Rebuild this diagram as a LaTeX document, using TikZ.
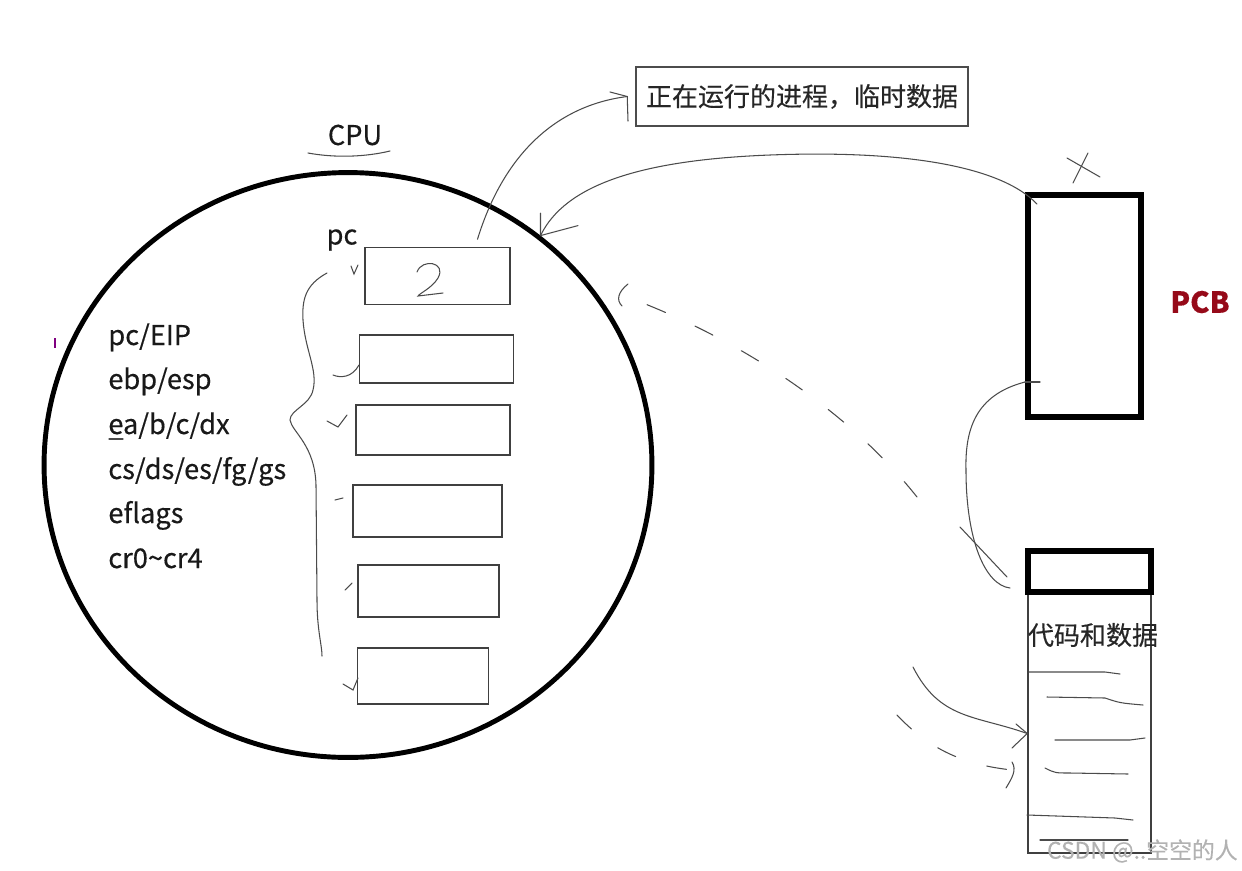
\documentclass[tikz,border=0pt]{standalone}
\usepackage{fontspec}
\setmainfont{Noto Sans CJK SC}[FakeBold=0.35]
\usetikzlibrary{shapes.geometric}

\definecolor{pcbred}{RGB}{150,10,25}
\definecolor{penc}{RGB}{75,75,75}

\tikzset{
  hand/.style={draw=penc, line width=0.6pt, line cap=round},
  dashhand/.style={hand, dash pattern=on 0.4cm off 0.65cm},
  regbox/.style={draw=black!75, line width=0.9pt, inner sep=0pt},
  thickbox/.style={draw=black, line width=3.4pt, inner sep=0pt},
  txt/.style={font=\fontsize{15.5}{18}\selectfont, text=black!90, inner sep=0pt},
  reglabel/.style={txt, anchor=base west},
}

\begin{document}
\begin{tikzpicture}[x=0.02cm, y=-0.02cm]
    \useasboundingbox (0,0) rectangle (1242,870);

    % CPU
    \node[ellipse, draw, line width=2.8pt, minimum width=12.16cm, minimum height=11.7cm] (cpu) at (348,465) {};
    \node[txt] (cpulabel) at (355,135) {CPU};
    \draw[hand] (308,153) .. controls (335,158) and (365,157) .. (390,151);
    \draw[violet, line width=0.6pt] (55,338) -- (55,348);

    % registers
    \node[reglabel] (r1) at (108,345) {pc/EIP};
    \node[reglabel] (r2) at (108,389) {ebp/esp};
    \node[reglabel] (r3) at (108,434) {ea/b/c/dx};
    \node[reglabel] (r4) at (108,479) {cs/ds/es/fg/gs};
    \node[reglabel] (r5) at (108,523) {eflags};
    \node[reglabel] (r6) at (108,568) {cr0\textasciitilde cr4};
    \draw[hand] (109,439) -- (123,439);

    % register boxes
    \node[txt] (pclabel) at (342,240) {pc};
    \node[regbox, minimum width=2.9cm, minimum height=1.14cm] (reg1) at (437.5,276) {};
    \node[regbox, minimum width=3.08cm, minimum height=0.96cm] (reg2) at (436.5,359) {};
    \node[regbox, minimum width=3.08cm, minimum height=1cm] (reg3) at (433,430) {};
    \node[regbox, minimum width=2.98cm, minimum height=1.04cm] (reg4) at (427.5,511) {};
    \node[regbox, minimum width=2.82cm, minimum height=1.04cm] (reg5) at (428.5,591) {};
    \node[regbox, minimum width=2.62cm, minimum height=1.12cm] (reg6) at (423,676) {};
    \draw[hand] (417,272) .. controls (422,258) and (447,262) .. (438,278)
        .. controls (432,288) and (420,293) .. (418,296) -- (443,293);

    % brace and ticks
    \draw[hand] (327,273) .. controls (305,285) and (302,300) .. (303,320)
        .. controls (305,350) and (318,370) .. (313,390)
        .. controls (310,405) and (290,410) .. (290,420)
        .. controls (292,432) and (315,445) .. (316,485) -- (317,600)
        .. controls (317,630) and (322,645) .. (322,656);
    \draw[hand] (351,266) -- (354,274) -- (358,265);
    \draw[hand] (333,375) .. controls (340,378) and (352,378) .. (359,365);
    \draw[hand] (327,421) -- (338,427) -- (347,415);
    \draw[hand] (335,500) -- (343,498);
    \draw[hand] (345,590) -- (352,583);
    \draw[hand] (343,684) -- (353,690) -- (358,678);

    % running process
    \node[draw=black!70, line width=0.9pt, minimum width=6.64cm, minimum height=1.18cm,
          font=\fontsize{14.8}{17}\selectfont, text=black!85] (info) at (802,96.5) {正在运行的进程，临时数据};
    \coordinate (infotip) at ([xshift=-0.16cm]info.west);
    \draw[hand] ([xshift=0.8cm,yshift=0.15cm]reg1.north) .. controls (505,150) and (560,105) .. (infotip);
    \draw[hand] (610,92) -- (infotip) -- (628,121);

    % PCB
    \node[thickbox, minimum width=2.26cm, minimum height=4.44cm] (pcb) at (1084.5,306) {};
    \node[font=\bfseries\fontsize{16.5}{19}\selectfont, text=pcbred, inner sep=0pt] (pcblabel) at (1200,302) {PCB};
    \draw[hand] (1067,158) -- (1100,177);
    \draw[hand] (1088,153) -- (1073,183);

    % PCB -> CPU
    \coordinate (cpuin) at (cpu.50);
    \draw[hand] ([xshift=0.24cm,yshift=-0.24cm]pcb.north west) .. controls (1000,165) and (900,150) .. (770,155)
        .. controls (640,160) and (565,185) .. (cpuin);
    \draw[hand] ([yshift=0.45cm]cpuin) -- (cpuin) -- ([xshift=0.75cm,yshift=0.2cm]cpuin);

    % code and data
    \node[regbox, minimum width=2.46cm, minimum height=5.22cm] (data) at (1089.5,722.5) {};
    \node[thickbox, minimum width=2.46cm, minimum height=0.82cm] (datahead) at (1089.5,571.5) {};
    \node[font=\fontsize{14.8}{17}\selectfont, text=black!85, inner sep=0pt] (datalabel) at (1093,635) {代码和数据};
    \draw[hand] (1029,672) -- (1105,672) -- (1120,674);
    \draw[hand] (1047,697) -- (1105,698) .. controls (1120,703) .. (1143,705);
    \draw[hand] (1055,740) -- (1130,740) -- (1145,738);
    \draw[hand] (1045,768) .. controls (1055,773) .. (1070,773) -- (1128,774);
    \draw[hand] (1027,815) -- (1115,818) -- (1133,820);
    \draw[hand] (1040,840) -- (1128,840);

    % PCB -> code and data
    \draw[hand] ([xshift=0.3cm]pcb.west |- 0,382) -- (1025,382);
    \draw[hand] (1025,382) .. controls (975,395) and (965,430) .. (966,470)
        .. controls (966,540) and (985,585) .. (1010,588);
    \draw[hand] (960,527) -- (1007,577);

    % code and data -> CPU
    \coordinate (cpudash) at ([xshift=0.3cm,yshift=0.2cm]cpu.32);
    \draw[dashhand] (917,497) .. controls (840,400) and (720,330) .. (cpudash);
    \draw[hand] (628,284) .. controls (618,292) and (616,300) .. (622,306);

    % arrows into code and data
    \coordinate (datain1) at ([yshift=-0.22cm]data.west);
    \coordinate (datain2) at ([xshift=-0.3cm,yshift=-0.95cm]data.west);
    \draw[hand] (913,667) .. controls (940,720) and (975,715) .. (datain1);
    \draw[hand] (1016,724) -- (datain1) -- (1012,748);
    \draw[dashhand] (897,715) .. controls (930,750) and (965,765) .. (datain2);
    \draw[hand] (1012,762) .. controls (1017,770) and (1012,778) .. (1006,788);

    % watermark
    \node[text=black!30, font=\fontsize{13}{15}\selectfont, anchor=east, inner sep=0pt] (mark) at (1238,851) {CSDN @..空空的人};
\end{tikzpicture}
\end{document}
